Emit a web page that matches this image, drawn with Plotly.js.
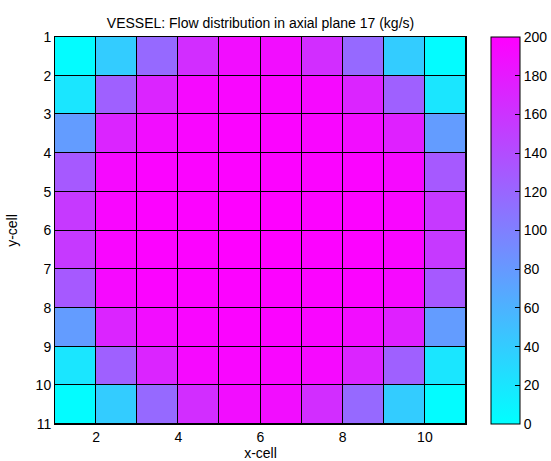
<!DOCTYPE html>
<html>
<head>
<meta charset="utf-8">
<script src="https://cdn.plot.ly/plotly-3.0.1.min.js"></script>
<style>html,body{margin:0;padding:0;background:#fff;}#chart{width:551px;height:461px;}</style>
</head>
<body>
<div id="chart"></div>
<script>
// Cell edges (x-cell, y-cell)
const xEdges = [1, 2, 3, 4, 5, 6, 7, 8, 9, 10, 11];
const yEdges = [1, 2, 3, 4, 5, 6, 7, 8, 9, 10, 11];
const xTicks = [2, 4, 6, 8, 10];
const yTicks = [1, 2, 3, 4, 5, 6, 7, 8, 9, 10, 11];
const cbTicks = [0, 20, 40, 60, 80, 100, 120, 140, 160, 180, 200];

// Flow (kg/s) per row y = 1..10, columns x = 1..10
const row1  = [2, 40, 118, 165, 190, 190, 165, 118, 40, 2];
const row2  = [20, 125, 172, 193, 195, 195, 193, 172, 125, 20];
const row3  = [78, 172, 190, 195, 197, 197, 195, 190, 175, 78];
const row4  = [130, 193, 197, 197, 198, 198, 197, 197, 193, 130];
const row5  = [155, 195, 198, 198, 199, 199, 198, 198, 195, 155];
const row6  = [155, 195, 198, 198, 199, 199, 198, 198, 195, 155];
const row7  = [130, 193, 197, 197, 198, 198, 197, 197, 193, 130];
const row8  = [78, 172, 190, 195, 197, 197, 195, 190, 175, 78];
const row9  = [20, 125, 172, 193, 195, 195, 193, 172, 125, 20];
const row10 = [2, 40, 118, 165, 190, 190, 165, 118, 40, 2];
const flow = [row1, row2, row3, row4, row5, row6, row7, row8, row9, row10];

const font = 'Liberation Sans, Arial, sans-serif';

Plotly.newPlot('chart', [{
  type: 'heatmap',
  x: xEdges,
  y: yEdges,
  z: flow,
  zmin: 0,
  zmax: 200,
  xgap: 1,
  ygap: 1,
  colorscale: [[0, '#00ffff'], [1, '#ff00ff']],
  colorbar: {
    x: 1.0608, xanchor: 'left', xpad: 0,
    y: 0.5, yanchor: 'middle', ypad: 0,
    len: 1, lenmode: 'fraction',
    thickness: 29, thicknessmode: 'pixels',
    outlinecolor: '#000', outlinewidth: 1,
    tickvals: cbTicks,
    ticks: 'inside', ticklen: 5, tickcolor: '#000',
    tickfont: {family: font, size: 14, color: '#000'}
  },
  hoverinfo: 'skip'
}], {
  width: 551, height: 461,
  margin: {l: 55, r: 85, t: 37, b: 37, autoexpand: false},
  paper_bgcolor: '#fff',
  plot_bgcolor: '#000',
  title: {
    text: 'VESSEL: Flow distribution in axial plane 17 (kg/s)',
    font: {family: font, size: 14, color: '#000'},
    x: 0.5, xref: 'paper', xanchor: 'center',
    y: 1, yref: 'paper', yanchor: 'bottom', pad: {b: 9}
  },
  xaxis: {
    range: [1, 11],
    tickvals: xTicks,
    ticks: 'inside', ticklen: 0,
    showgrid: false, zeroline: false,
    showline: true, linecolor: '#000', linewidth: 1, mirror: true,
    automargin: false,
    tickfont: {family: font, size: 14, color: '#000'},
    title: {text: 'x-cell', font: {family: font, size: 14, color: '#000'}, standoff: 2}
  },
  yaxis: {
    range: [11, 1],
    tickvals: yTicks,
    ticks: '',
    showgrid: false, zeroline: false,
    showline: true, linecolor: '#000', linewidth: 1, mirror: true,
    automargin: false,
    tickfont: {family: font, size: 14, color: '#000'},
    title: {text: 'y-cell', font: {family: font, size: 14, color: '#000'}, standoff: 14}
  }
}, {displayModeBar: false, staticPlot: true});
</script>
</body>
</html>
